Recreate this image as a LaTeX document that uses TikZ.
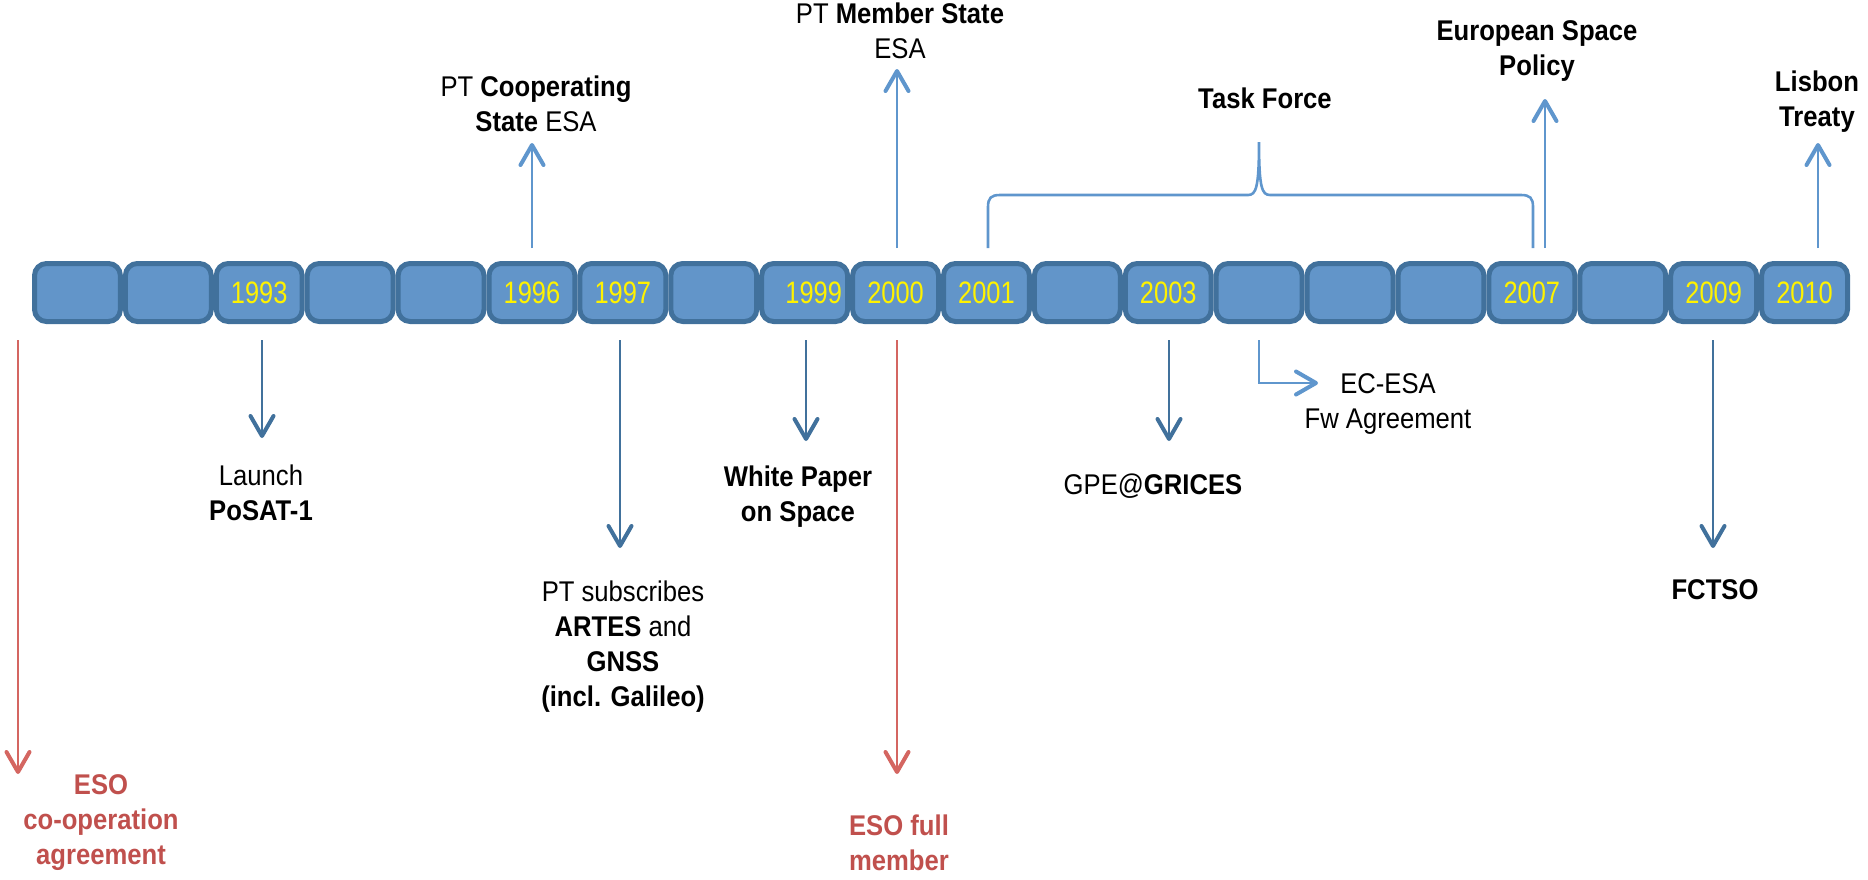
\documentclass[tikz,border=0pt]{standalone}
\usepackage{fontspec}
\setmainfont{Liberation Sans}[FakeStretch=0.9]
\newfontfamily\yearfont{Liberation Sans}[FakeStretch=0.82]
\usetikzlibrary{arrows.meta}
\usetikzlibrary{positioning}
\definecolor{barfill}{RGB}{98,149,201}
\definecolor{bardraw}{RGB}{65,113,156}
\definecolor{lightarr}{RGB}{95,150,205}
\definecolor{esoarr}{RGB}{212,102,97}
\definecolor{esotext}{RGB}{192,80,77}
\tikzset{yearbox/.style = {draw=bardraw, fill=barfill, line width=2.5pt, rounded corners=6pt,
                           minimum width=42.95pt, minimum height=29pt, inner sep=0,
                           text=yellow, font=\yearfont\fontsize{15.5}{18}\selectfont}}
\tikzset{lbl/.style = {align=center, inner sep=0, font=\fontsize{14.25}{17.5}\selectfont}}
\tikzset{barb/.style = {-{Straight Barb[length=10pt, width=11.5pt, line width=2pt, round]}}}
\tikzset{uparr/.style = {barb, draw=lightarr, line width=1.3pt}}
\tikzset{downarr/.style = {barb, draw=bardraw, line width=1.3pt}}
\tikzset{redarr/.style = {barb, draw=esoarr, line width=1.3pt}}

\begin{document}
\begin{tikzpicture}[x=0.5pt, y=-0.5pt]
  \useasboundingbox (0,0) rectangle (1868,879);

  % the years bar
  \foreach \yr [count=\i from 0] in {{},{},1993,{},{},1996,1997,{},{},2000,2001,{},2003,{},{},{},2007,{},2009,2010}
    \node [yearbox] (b\i) at ({32+90.9*(\i+0.5)}, 292.5) {\yr};
  \node [yearbox, draw=none, fill=none, xshift=4.5pt] (y99) at (b8) {1999};

  % events above the bar
  \node [lbl] (coop) at (536, 103.5) {PT \textbf{Cooperating}\\\textbf{State} ESA};
  \node [lbl] (member) at (900, 31) {PT \textbf{Member State}\\ESA};
  \node [lbl] (policy) at (1537, 51) {\textbf{European Space}\\\textbf{Policy}};
  \node [lbl] (lisbon) at (1817, 102) {\textbf{Lisbon}\\\textbf{Treaty}};
  \node [lbl] (task) at (1265, 98) {\textbf{Task Force}};

  \coordinate (c96) at (532, 248);  \coordinate (h96) at (532, 143);
  \coordinate (c00) at (897, 248);  \coordinate (h00) at (897, 69);
  \coordinate (c07) at (1545, 248); \coordinate (h07) at (1545, 99);
  \coordinate (c10) at (1818, 248); \coordinate (h10) at (1818, 143);
  \draw [uparr] (c96) -- (h96);
  \draw [uparr] (c00) -- (h00);
  \draw [uparr] (c07) -- (h07);
  \draw [uparr] (c10) -- (h10);

  % task force brace
  \coordinate (tfl) at (988, 248);
  \coordinate (tfr) at (1533, 248);
  \coordinate (tft) at (1259, 142);
  \draw [lightarr, line width=1.3pt] (tfl) -- (988, 207) .. controls (988, 198) and (991, 195) .. (1000, 195)
    -- (1248, 195) .. controls (1256, 195) and (1259, 188) .. (tft)
    .. controls (1259, 188) and (1262, 195) .. (1270, 195)
    -- (1521, 195) .. controls (1530, 195) and (1533, 198) .. (1533, 207) -- (tfr);

  % events below the bar
  \node [lbl] (posat) at (261, 493) {Launch\\\textbf{PoSAT-1}};
  \node [lbl] (artes) at (623, 647) {PT subscribes\\\textbf{ARTES} and\\\textbf{GNSS}\\\textbf{(incl. Galileo)}};
  \node [lbl] (white) at (798, 497) {\textbf{White Paper}\\\textbf{on Space}};
  \node [lbl] (grices) at (1153, 486) {GPE@\textbf{GRICES}};
  \node [lbl] (fw) at (1388, 404) {EC-ESA\\Fw Agreement};
  \node [lbl] (fctso) at (1715, 590) {\textbf{FCTSO}};
  \node [lbl, text=esotext] (esocoop) at (101, 823) {\textbf{ESO}\\\textbf{co-operation}\\\textbf{agreement}};
  \node [lbl, text=esotext] (esofull) at (899, 843) {\textbf{ESO full}\\\textbf{member}};

  \coordinate (c93) at (262, 340);  \coordinate (h93) at (262, 438);
  \coordinate (c97) at (620, 340);  \coordinate (h97) at (620, 548);
  \coordinate (c99) at (806, 340);  \coordinate (h99) at (806, 441);
  \coordinate (c03) at (1169, 340); \coordinate (h03) at (1169, 441);
  \coordinate (c09) at (1713, 340); \coordinate (h09) at (1713, 548);
  \draw [downarr] (c93) -- (h93);
  \draw [downarr] (c97) -- (h97);
  \draw [downarr] (c99) -- (h99);
  \draw [downarr] (c03) -- (h03);
  \draw [downarr] (c09) -- (h09);

  \coordinate (c04) at (1259, 340); \coordinate (h04) at (1318, 383);
  \draw [uparr] (c04) |- (h04);

  \coordinate (ceso) at (18, 340);  \coordinate (heso) at (18, 774);
  \coordinate (cfull) at (897, 340); \coordinate (hfull) at (897, 774);
  \draw [redarr] (ceso) -- (heso);
  \draw [redarr] (cfull) -- (hfull);
\end{tikzpicture}
\end{document}
